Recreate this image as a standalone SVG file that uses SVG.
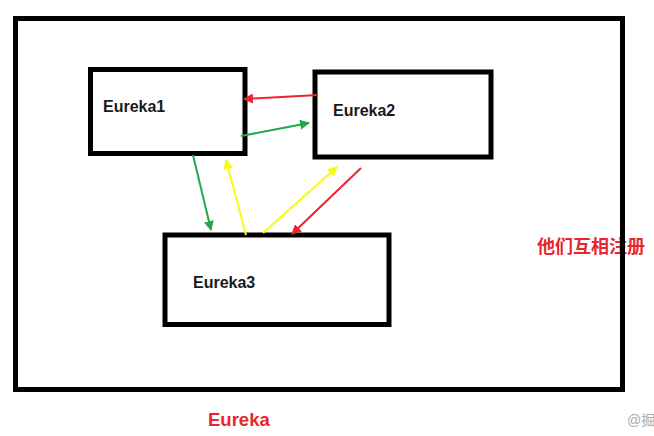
<svg xmlns="http://www.w3.org/2000/svg" width="654" height="436" viewBox="0 0 654 436">
<style>
.box{fill:none;stroke:#000;stroke-width:5}
.lbl{font-family:"Liberation Sans",Arial,sans-serif;font-weight:bold;font-size:16px;fill:#1a1a1a}
.red{fill:#e8262d;font-family:"Liberation Sans","Noto Sans CJK SC",sans-serif;font-weight:bold}
.c{fill:none;stroke-width:2}
</style>
<defs>
<marker id="mr" viewBox="0 0 10 10" refX="9" refY="5" markerWidth="5" markerHeight="5" orient="auto"><path d="M0,0L10,5L0,10z" fill="#e8262d"/></marker>
<marker id="mg" viewBox="0 0 10 10" refX="9" refY="5" markerWidth="5" markerHeight="5" orient="auto"><path d="M0,0L10,5L0,10z" fill="#22a84a"/></marker>
<marker id="my" viewBox="0 0 10 10" refX="9" refY="5" markerWidth="5" markerHeight="5" orient="auto"><path d="M0,0L10,5L0,10z" fill="#fafa10"/></marker>
</defs>
<rect width="654" height="436" fill="#fff"/>
<text class="red" x="537" y="253" font-size="18">他们互相注册</text>
<g id="frame"><rect class="box" x="15.5" y="18.5" width="607" height="371"/></g>
<g id="eureka1"><rect class="box" x="90.5" y="69.5" width="154.5" height="84"/><text class="lbl" x="103" y="112">Eureka1</text></g>
<g id="eureka2"><rect class="box" x="315" y="72" width="176" height="85"/><text class="lbl" x="333" y="116">Eureka2</text></g>
<g id="eureka3"><rect class="box" x="165" y="235" width="224" height="89.5"/><text class="lbl" x="193" y="288">Eureka3</text></g>
<g id="connectors">
<line class="c" stroke="#e8262d" x1="318" y1="95" x2="244" y2="99" marker-end="url(#mr)"/>
<line class="c" stroke="#22a84a" x1="241" y1="136" x2="309" y2="123" marker-end="url(#mg)"/>
<line class="c" stroke="#22a84a" x1="193" y1="155" x2="211" y2="230" marker-end="url(#mg)"/>
<line class="c" stroke="#fafa10" x1="246" y1="235" x2="226" y2="160" marker-end="url(#my)"/>
<line class="c" stroke="#fafa10" x1="263" y1="233" x2="337" y2="167" marker-end="url(#my)"/>
<line class="c" stroke="#e8262d" x1="361" y1="168" x2="292" y2="234" marker-end="url(#mr)"/>
</g>
<text class="red" x="208" y="426" font-size="18.5">Eureka</text>
<text x="627" y="425" font-family="'Liberation Sans','Noto Sans CJK SC',sans-serif" font-size="14" fill="#aaa">@掘</text>
</svg>
